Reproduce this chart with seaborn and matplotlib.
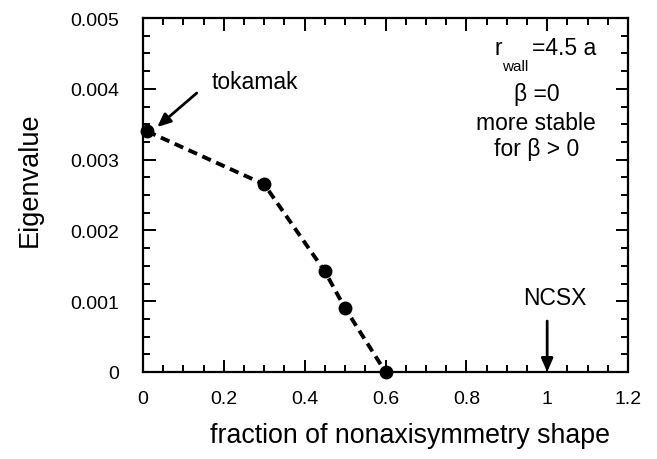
import matplotlib
matplotlib.use("Agg")
import matplotlib.pyplot as plt
import seaborn as sns
import pandas as pd
from matplotlib.ticker import MultipleLocator

# data
fraction = [0.01, 0.30, 0.45, 0.50, 0.60]
eigenvalue = [0.00340, 0.00265, 0.00142, 0.00090, 0.0]
x_ticks = [0, 0.2, 0.4, 0.6, 0.8, 1.0, 1.2]
x_tick_labels = ["0", "0.2", "0.4", "0.6", "0.8", "1", "1.2"]
y_ticks = [0, 0.001, 0.002, 0.003, 0.004, 0.005]
y_tick_labels = ["0", "0.001", "0.002", "0.003", "0.004", "0.005"]

df = pd.DataFrame({"fraction": fraction, "eigenvalue": eigenvalue})

sns.set_style("ticks")
plt.rcParams["font.family"] = ["Liberation Sans", "DejaVu Sans"]
plt.rcParams["text.color"] = "black"
plt.rcParams["axes.labelcolor"] = "black"
plt.rcParams["xtick.color"] = "black"
plt.rcParams["ytick.color"] = "black"

fig = plt.figure(figsize=(6.57, 4.6), dpi=100)
ax = fig.add_axes([143 / 657, 1 - 373 / 460, (628 - 143) / 657, (373 - 19) / 460])

sns.lineplot(data=df, x="fraction", y="eigenvalue", ax=ax, color="black",
             linewidth=2.8, marker="o", markersize=10, markeredgewidth=0,
             clip_on=False)
ax.lines[0].set_dashes((2.4, 1.5))

ax.set_xlim(0, 1.2)
ax.set_ylim(0, 0.005)
ax.set_xticks(x_ticks)
ax.set_xticklabels(x_tick_labels)
ax.set_yticks(y_ticks)
ax.set_yticklabels(y_tick_labels)
ax.xaxis.set_minor_locator(MultipleLocator(0.05))
ax.yaxis.set_minor_locator(MultipleLocator(0.00025))
ax.tick_params(which="both", direction="in", top=True, right=True, width=1.4,
               color="black", labelcolor="black")
ax.tick_params(which="major", length=9, labelsize=14)
ax.tick_params(axis="x", which="major", pad=13)
ax.tick_params(axis="y", which="major", pad=17)
ax.tick_params(which="minor", length=5)
for s in ax.spines.values():
    s.set_linewidth(1.6)
    s.set_color("black")

ax.set_xlabel("fraction of nonaxisymmetry shape", fontsize=19.3, labelpad=11)
ax.set_ylabel("Eigenvalue", fontsize=19.5, labelpad=20)
ax.xaxis.label.set_x(0.55)
ax.yaxis.label.set_y(0.545)

arrowprops = dict(arrowstyle="-|>,head_length=0.8,head_width=0.35", color="black", lw=2,
                  shrinkA=0, shrinkB=0)
ax.annotate("", xy=(0.035, 0.00346), xytext=(0.133, 0.00394), arrowprops=arrowprops)
ax.text(0.277, 0.00411, "tokamak", fontsize=16.5, ha="center", va="center")
ax.annotate("", xy=(1.0, 0.0), xytext=(1.0, 0.00072), arrowprops=arrowprops,
            annotation_clip=False)
ax.text(1.02, 0.00105, "NCSX", fontsize=16.5, ha="center", va="center")

ax.text(0.869, 0.00458, "r", fontsize=16.5, ha="left", va="center")
ax.text(0.889, 0.00432, "wall", fontsize=11, ha="left", va="center")
ax.text(0.963, 0.00458, "=4.5 a", fontsize=16.5, ha="left", va="center")
ax.text(0.975, 0.00393, "β =0", fontsize=16.5, ha="center", va="center")
ax.text(0.973, 0.00353, "more stable", fontsize=16.5, ha="center", va="center")
ax.text(0.973, 0.00315, "for β > 0", fontsize=16.5, ha="center", va="center")

fig.savefig("out.png", dpi=100)
